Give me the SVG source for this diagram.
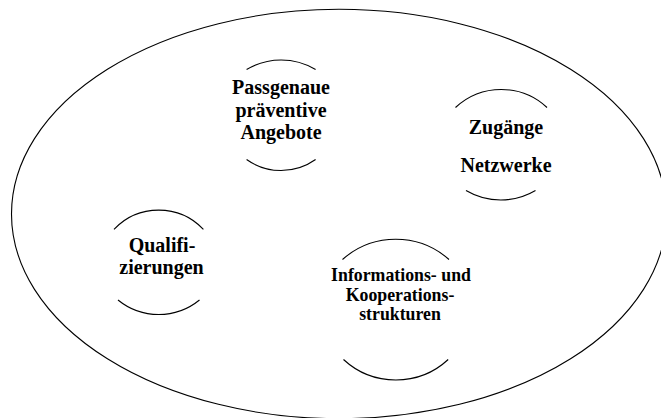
<svg xmlns="http://www.w3.org/2000/svg" width="661" height="418" viewBox="0 0 661 418">
<style>
.arc{fill:none;stroke:#000;stroke-width:1.1}
.t{font-family:"Liberation Serif","Times New Roman",serif;font-weight:bold;font-size:20px;fill:#000;text-anchor:middle}
.s{font-size:17.8px}
</style>
<rect width="661" height="418" fill="#fff"/>
<g id="outer">
<ellipse cx="339" cy="214" rx="327.5" ry="204.7" fill="none" stroke="#000" stroke-width="1.1"/>
</g>
<g id="node-angebote">
<path class="arc" d="M246.6 69.5 A67.4 67.4 0 0 1 315.6 69.5"/>
<path class="arc" d="M246.6 159.5 A59.6 59.6 0 0 0 315.6 159.5"/>
<text class="t" x="281" y="94">Passgenaue</text>
<text class="t" x="281" y="116.5">präventive</text>
<text class="t" x="281" y="139">Angebote</text>
</g>
<g id="node-zugaenge">
<path class="arc" d="M455.5 107.5 A67.1 67.1 0 0 1 547 107.5"/>
<path class="arc" d="M466 190.5 A68.3 68.3 0 0 0 535.5 190.5"/>
<text class="t" x="506" y="133.5">Zugänge</text>
<text class="t" x="506" y="172">Netzwerke</text>
</g>
<g id="node-qualifizierungen">
<path class="arc" d="M114 229.3 A61.6 61.6 0 0 1 203.4 229.3"/>
<path class="arc" d="M118 300 A64.5 64.5 0 0 0 199.5 300"/>
<text class="t" x="162" y="252">Qualifi-</text>
<text class="t" x="161.5" y="274">zierungen</text>
</g>
<g id="node-strukturen">
<path class="arc" d="M342.5 259.5 A80.3 80.3 0 0 1 449 259.5"/>
<path class="arc" d="M343.5 359.5 A77.1 77.1 0 0 0 448.2 359.5"/>
<text class="t s" x="401" y="281">Informations- und</text>
<text class="t s" x="400" y="300.5">Kooperations-</text>
<text class="t s" x="400" y="320">strukturen</text>
</g>
<g id="connectors"></g>
</svg>
